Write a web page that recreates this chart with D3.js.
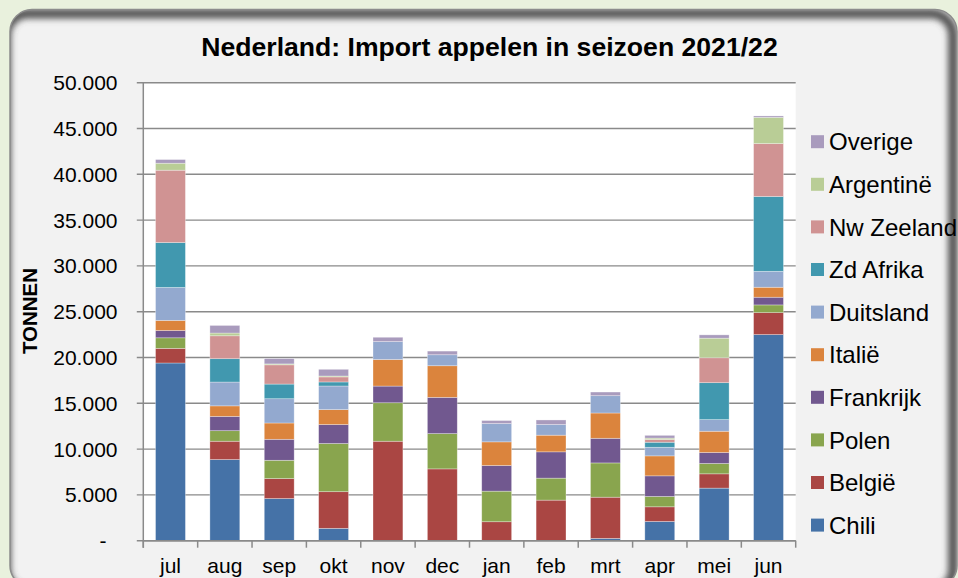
<!DOCTYPE html>
<html lang="nl">
<head>
<meta charset="UTF-8" />
<title>Nederland: Import appelen in seizoen 2021/22</title>
<script src="https://cdn.jsdelivr.net/npm/d3@7/dist/d3.min.js"></script>
<style>
  body { margin: 0; background: #e9f1dd; }
  svg { display: block; }
  text { font-family: "Liberation Sans", Arial, sans-serif; fill: #000; }
</style>
</head>
<body>
<svg width="958" height="578"></svg>
<script>
const months = ["jul", "aug", "sep", "okt", "nov", "dec", "jan", "feb", "mrt", "apr", "mei", "jun"];
const countries = ["Chili", "België", "Polen", "Frankrijk", "Italië", "Duitsland", "Zd Afrika", "Nw Zeeland", "Argentinë", "Overige"];
const colors = ["#4572a7", "#aa4643", "#89a54e", "#71588f", "#db843d", "#93a9cf", "#4198af", "#d09393", "#b9cd96", "#a99bbd"];

// tonnen per maand
const chili      = [19400, 8860, 4600, 1350, 0, 0, 0, 0, 250, 2100, 5740, 22500];
const belgie     = [1600, 2000, 2180, 4000, 10860, 7840, 2070, 4430, 4500, 1600, 1560, 2400];
const polen      = [1150, 1150, 2000, 5260, 4200, 3850, 3340, 2400, 3740, 1130, 1130, 840];
const frankrijk  = [800, 1560, 2290, 2070, 1820, 3960, 2800, 2870, 2690, 2250, 1200, 840];
const italie     = [1100, 1150, 1780, 1630, 2900, 3450, 2580, 1820, 2760, 2180, 2320, 1090];
const duitsland  = [3600, 2600, 2650, 2580, 1960, 1200, 2000, 1160, 1890, 940, 1270, 1740];
const zdAfrika   = [4900, 2550, 1600, 440, 0, 0, 0, 0, 0, 550, 4030, 8170];
const nwZeeland  = [7900, 2500, 2100, 550, 0, 0, 0, 0, 0, 300, 2720, 5770];
const argentinie = [760, 300, 100, 100, 0, 0, 0, 0, 0, 150, 2140, 2870];
const overige    = [400, 830, 580, 730, 470, 400, 330, 500, 400, 300, 360, 150];

const yTicks = [0, 5000, 10000, 15000, 20000, 25000, 30000, 35000, 40000, 45000, 50000];

const seriesValues = [chili, belgie, polen, frankrijk, italie, duitsland, zdAfrika, nwZeeland, argentinie, overige];
const table = months.map((m, i) => {
  const row = { month: m };
  countries.forEach((c, j) => { row[c] = seriesValues[j][i]; });
  return row;
});

const svg = d3.select("svg");

// panel met binnenschaduw boven en rechts
const panel = { x: 10, y: 9.5, w: 947, h: 578, r: 22 };
const defs = svg.append("defs");
defs.append("clipPath").attr("id", "panelClip")
  .append("rect")
  .attr("x", panel.x).attr("y", panel.y).attr("width", panel.w).attr("height", panel.h)
  .attr("rx", panel.r).attr("ry", panel.r);
defs.append("filter").attr("id", "blur")
  .attr("x", "-5%").attr("y", "-5%").attr("width", "110%").attr("height", "110%")
  .append("feGaussianBlur").attr("stdDeviation", 3);

svg.append("rect")
  .attr("x", panel.x).attr("y", panel.y).attr("width", panel.w).attr("height", panel.h)
  .attr("rx", panel.r).attr("ry", panel.r)
  .attr("fill", "#f2f2f2");
svg.append("g").attr("clip-path", "url(#panelClip)")
  .append("rect")
  .attr("x", panel.x - 4).attr("y", panel.y + 4).attr("width", panel.w).attr("height", panel.h)
  .attr("rx", panel.r).attr("ry", panel.r)
  .attr("fill", "none").attr("stroke", "#555").attr("stroke-width", 10)
  .attr("filter", "url(#blur)");
svg.append("rect")
  .attr("x", panel.x).attr("y", panel.y).attr("width", panel.w).attr("height", panel.h)
  .attr("rx", panel.r).attr("ry", panel.r)
  .attr("fill", "none").attr("stroke", "#8c8c8c").attr("stroke-width", 1.5);

const plotLeft = 143.3, plotRight = 795.7, plotTop = 82.7, plotBottom = 540.7;

const x = d3.scaleBand().domain(months).range([plotLeft, plotRight]).paddingInner(0.45).paddingOuter(0.225);
const xb = d3.scaleBand().domain(months).range([plotLeft, plotRight]);
const y = d3.scaleLinear().domain([0, 50000]).range([plotBottom, plotTop]);

svg.append("rect")
  .attr("x", plotLeft).attr("y", plotTop)
  .attr("width", plotRight - plotLeft).attr("height", plotBottom - plotTop)
  .attr("fill", "#fff");

// rasterlijnen
svg.append("g").selectAll("line").data(yTicks).join("line")
  .attr("x1", plotLeft - 6.5).attr("x2", plotRight)
  .attr("y1", d => y(d)).attr("y2", d => y(d))
  .attr("stroke", "#8a8a8a").attr("stroke-width", 1.4);

const fmt = v => v === 0 ? "-" : d3.format(",")(v).replace(/,/g, ".");
svg.append("g").selectAll("text").data(yTicks).join("text")
  .attr("x", d => d === 0 ? 106.5 : 117.5)
  .attr("y", d => y(d))
  .attr("dy", "0.36em")
  .attr("text-anchor", "end")
  .style("font-size", "21px")
  .text(fmt);

// gestapelde staven
const stack = d3.stack().keys(countries)(table);
svg.append("g").selectAll("g").data(stack).join("g")
  .attr("fill", (d, i) => colors[i])
  .selectAll("rect").data(d => d).join("rect")
  .attr("x", d => x(d.data.month))
  .attr("width", x.bandwidth())
  .attr("y", d => y(d[1]))
  .attr("height", d => Math.max(0, y(d[0]) - y(d[1])))
  .attr("stroke", "rgba(255,255,255,0.45)")
  .attr("stroke-width", 0.7);

// assen
const axisColor = "#8a8a8a";
svg.append("line")
  .attr("x1", plotLeft).attr("x2", plotLeft).attr("y1", plotTop).attr("y2", plotBottom + 7)
  .attr("stroke", axisColor).attr("stroke-width", 1.5);
svg.append("line")
  .attr("x1", plotLeft).attr("x2", plotRight).attr("y1", plotBottom).attr("y2", plotBottom)
  .attr("stroke", axisColor).attr("stroke-width", 1.5);
const bounds = months.map(m => xb(m)).concat([plotRight]);
svg.append("g").selectAll("line").data(bounds).join("line")
  .attr("x1", d => d).attr("x2", d => d)
  .attr("y1", plotBottom).attr("y2", plotBottom + 7)
  .attr("stroke", axisColor).attr("stroke-width", 1.5);

svg.append("g").selectAll("text").data(months).join("text")
  .attr("x", d => xb(d) + xb.bandwidth() / 2)
  .attr("y", 573)
  .attr("text-anchor", "middle")
  .style("font-size", "21px")
  .text(d => d);

// titels
svg.append("text")
  .attr("x", 489.5).attr("y", 56)
  .attr("text-anchor", "middle")
  .style("font-size", "26.6px").style("font-weight", "bold")
  .text("Nederland: Import appelen in seizoen 2021/22");

svg.append("text")
  .attr("transform", "translate(37,311) rotate(-90)")
  .attr("text-anchor", "middle")
  .style("font-size", "20.5px").style("font-weight", "bold")
  .text("TONNEN");

// legenda (Overige bovenaan)
const legend = svg.append("g").selectAll("g")
  .data(countries.map((c, i) => ({ name: c, color: colors[i] })).reverse())
  .join("g")
  .attr("transform", (d, i) => `translate(811,${141.7 + i * 42.6})`);
legend.append("rect")
  .attr("x", 0).attr("y", -6.5).attr("width", 13).attr("height", 13)
  .attr("fill", d => d.color);
legend.append("text")
  .attr("x", 18).attr("dy", "0.36em")
  .style("font-size", "24px")
  .text(d => d.name);
</script>
</body>
</html>
